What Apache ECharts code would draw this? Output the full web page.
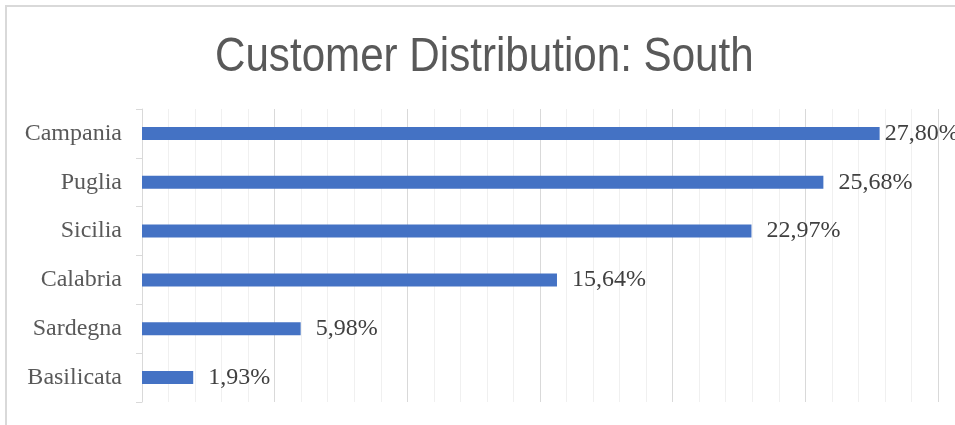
<!DOCTYPE html>
<html>
<head>
<meta charset="utf-8">
<script src="https://cdn.jsdelivr.net/npm/echarts@6/dist/echarts.min.js"></script>
<style>
  html, body { margin: 0; padding: 0; background: #ffffff; }
  #chart { width: 955px; height: 425px; }
</style>
</head>
<body>
<div id="chart"></div>
<script>
// Regions, top to bottom, and their share of customers (%)
const regions = ['Campania', 'Puglia', 'Sicilia', 'Calabria', 'Sardegna', 'Basilicata'];
const shares = [27.80, 25.68, 22.97, 15.64, 5.98, 1.93];

// Value axis range (%)
const axisMax = 30;
const axisStep = 5;

const chart = echarts.init(document.getElementById('chart'), null, { renderer: 'canvas' });

const formatPct = v => v.toFixed(2).replace('.', ',') + '%';

// The largest bar's label sits closer to its bar so it stays inside the frame
const barData = shares.map((v, i) => {
  const item = { value: v };
  if (i === 0) item.label = { distance: 5 };
  return item;
});

chart.setOption({
  animation: false,
  backgroundColor: '#ffffff',
  graphic: [
    {
      // chart frame (top and left edges)
      type: 'polyline',
      shape: { points: [[6, 425], [6, 6], [955, 6]] },
      style: { stroke: '#d9d9d9', lineWidth: 2, fill: null },
      silent: true
    },
    {
      // condensed title
      type: 'text',
      x: 215,
      y: 33,
      scaleX: 0.86,
      scaleY: 1,
      silent: true,
      style: {
        text: 'Customer Distribution: South',
        x: 0,
        y: 0,
        verticalAlign: 'top',
        align: 'left',
        fontFamily: '"Liberation Sans", Arial, sans-serif',
        fontSize: 49,
        fontWeight: 'normal',
        fill: '#595959'
      }
    }
  ],
  grid: { left: 142, right: 17, top: 109, height: 293, containLabel: false },
  xAxis: {
    type: 'value',
    min: 0,
    max: axisMax,
    interval: axisStep,
    axisLabel: { show: false },
    axisLine: { show: false },
    axisTick: { show: false },
    splitLine: { show: true, lineStyle: { color: '#d9d9d9', width: 1 } },
    minorTick: { show: false, splitNumber: 5 },
    minorSplitLine: { show: true, lineStyle: { color: '#f0f0f0', width: 1 } }
  },
  yAxis: {
    type: 'category',
    data: regions,
    inverse: true,
    axisLine: { show: true, lineStyle: { color: '#d9d9d9', width: 1 } },
    axisTick: { show: true, length: 6, lineStyle: { color: '#d9d9d9' } },
    axisLabel: {
      margin: 20,
      fontFamily: '"Liberation Serif", "Times New Roman", serif',
      fontSize: 24,
      color: '#595959'
    },
    splitLine: { show: false }
  },
  series: [
    {
      type: 'bar',
      data: barData,
      barWidth: 13,
      itemStyle: { color: '#4472C4' },
      label: {
        show: true,
        position: 'right',
        distance: 15,
        formatter: p => formatPct(p.value),
        fontFamily: '"Liberation Serif", "Times New Roman", serif',
        fontSize: 24,
        color: '#404040'
      }
    }
  ]
});
</script>
</body>
</html>
